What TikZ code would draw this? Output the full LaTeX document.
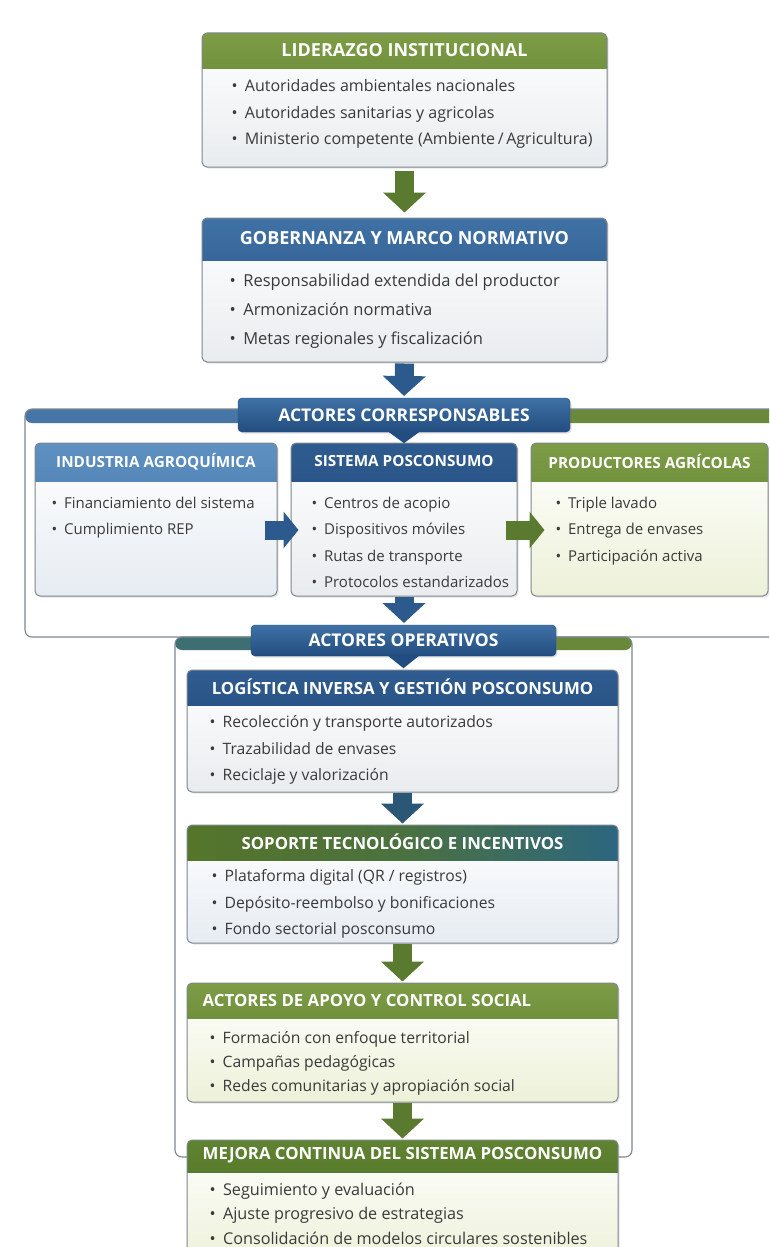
\documentclass[tikz,border=0pt]{standalone}
\usepackage{fontspec}
\setmainfont{Open Sans}
\usetikzlibrary{arrows.meta,positioning,shadows}

\definecolor{edge}{HTML}{7F878F}
\definecolor{txt}{HTML}{3A3A3A}
\definecolor{grT}{HTML}{7D9C45}
\definecolor{grB}{HTML}{55752A}
\definecolor{dgT}{HTML}{608332}
\definecolor{dgB}{HTML}{44651E}
\definecolor{blT}{HTML}{4071A5}
\definecolor{blB}{HTML}{224D80}
\definecolor{dbT}{HTML}{2F5C90}
\definecolor{dbB}{HTML}{1B3F6D}
\definecolor{lbT}{HTML}{5E90C2}
\definecolor{lbB}{HTML}{3B6C9E}
\definecolor{teal}{HTML}{2C6680}
\definecolor{agreen}{HTML}{5A7B2F}
\definecolor{ablue}{HTML}{2D5A8D}
\definecolor{ateal}{HTML}{2A5776}
\definecolor{fblue}{HTML}{4676A6}
\definecolor{fgreen}{HTML}{6A883A}
\definecolor{fteal}{HTML}{3C6E72}
\definecolor{tGray}{HTML}{E9ECEF}
\definecolor{tBlue}{HTML}{E6ECF2}
\definecolor{tGreen}{HTML}{EDF1D8}

\newcommand\itm{\textbullet\hspace{0.45em}}

\begin{document}
\begin{tikzpicture}[x=1pt,y=-1pt,
  panel/.style n args={4}{draw=edge,line width=1pt,rounded corners=5pt,inner sep=0pt,
    top color=white,bottom color=#3,
    drop shadow={opacity=.2,shadow xshift=1.5pt,shadow yshift=-1.5pt},
    path picture={\shade[top color=#1,bottom color=#2,sharp corners]
      (path picture bounding box.north west) rectangle ([yshift=-#4]path picture bounding box.north east);}},
  frm/.style n args={3}{draw=edge,line width=1.1pt,rounded corners=7pt,fill=white,inner sep=0pt,
    path picture={\fill[#1] (path picture bounding box.north west) rectangle ([yshift=-#3]path picture bounding box.north);
      \fill[#2] (path picture bounding box.north) rectangle ([yshift=-#3]path picture bounding box.north east);}},
  sect/.style 2 args={rounded corners=4pt,top color=#1,bottom color=#2,draw=#2,inner sep=0pt,
    text=white,font=\bfseries\fontsize{17.5}{20}\selectfont,
    drop shadow={opacity=.25,shadow xshift=1.5pt,shadow yshift=-1.5pt}},
  ttl/.style={text=white,inner sep=0pt,font=\bfseries\fontsize{18}{20}\selectfont},
  sttl/.style={text=white,inner sep=0pt,font=\bfseries\fontsize{15.3}{18}\selectfont},
  ottl/.style={text=white,inner sep=0pt,font=\bfseries\fontsize{16.8}{19}\selectfont},
  lst/.style={anchor=north west,align=left,inner sep=0pt,text=txt,font=\fontsize{16}{26.5}\selectfont},
  slst/.style={anchor=north west,align=left,inner sep=0pt,text=txt,font=\fontsize{15}{26.5}\selectfont},
  olst/.style={anchor=north west,align=left,inner sep=0pt,text=txt,font=\fontsize{15.7}{26.5}\selectfont},
  varr/.style={draw=#1,line width=19pt,-{Triangle[width=42pt,length=20pt]}},
  harr/.style={draw=#1,line width=19pt,-{Triangle[width=36pt,length=15pt]}},
  tip/.style={fill=#1}]

\path[use as bounding box,clip] (0,0) rectangle (769,1247);
\fill[white] (0,0) rectangle (769,1247);

% outer frames
\node[frm={fblue}{fgreen}{14pt},minimum width=765pt,minimum height=228pt] (corr) at (407.5,523) {};
\node[frm={fteal}{fgreen}{13pt},minimum width=457pt,minimum height=520pt] (oper) at (403.5,897) {};

% liderazgo
\node[panel={grT}{grB}{tGray}{36pt},minimum width=405pt,minimum height=134pt] (lid) at (404.5,100) {};
\node[ttl] (lidT) at ([yshift=-18pt]lid.north) {LIDERAZGO INSTITUCIONAL};
\node[lst] (lidL) at ([xshift=30pt,yshift=-47pt]lid.north west)
  {\itm Autoridades ambientales nacionales\\ \itm Autoridades sanitarias y agricolas\\
   \itm Ministerio competente (Ambiente\,/\,Agricultura)};

% gobernanza
\node[panel={blT}{blB}{tGray}{42pt},minimum width=405pt,minimum height=144pt] (gob) at (404.5,290) {};
\node[ttl] (gobT) at ([yshift=-21pt]gob.north) {GOBERNANZA Y MARCO NORMATIVO};
\node[lst,font=\fontsize{16.5}{29}\selectfont] (gobL) at ([xshift=28pt,yshift=-56pt]gob.north west)
  {\itm Responsabilidad extendida del productor\\ \itm Armonización normativa\\
   \itm Metas regionales y fiscalización};

\draw[varr=agreen,shorten <=3pt,shorten >=5pt] (lid.south) -- (gob.north);
\draw[varr=ablue,shorten <=1pt,shorten >=2pt] (gob.south) -- (404,398);

% actores corresponsables
\node[panel={dbT}{dbB}{tGray}{38pt},minimum width=226pt,minimum height=153pt] (sis) at (404,519.5) {};
\node[panel={lbT}{lbB}{tBlue}{38pt},minimum width=242pt,minimum height=153pt,left=13pt of sis] (ind) {};
\node[panel={grT}{grB}{tGreen}{38pt},minimum width=237pt,minimum height=153pt,right=13pt of sis] (pro) {};
\node[sttl] (indT) at ([yshift=-19pt]ind.north) {INDUSTRIA AGROQUÍMICA};
\node[sttl] (sisT) at ([yshift=-19pt]sis.north) {SISTEMA POSCONSUMO};
\node[sttl] (proT) at ([yshift=-19pt]pro.north) {PRODUCTORES AGRÍCOLAS};
\node[slst] (indL) at ([xshift=17pt,yshift=-54pt]ind.north west)
  {\itm Financiamiento del sistema\\ \itm Cumplimiento REP};
\node[slst] (sisL) at ([xshift=21pt,yshift=-54pt]sis.north west)
  {\itm Centros de acopio\\ \itm Dispositivos móviles\\ \itm Rutas de transporte\\ \itm Protocolos estandarizados};
\node[slst] (proL) at ([xshift=25pt,yshift=-54pt]pro.north west)
  {\itm Triple lavado\\ \itm Entrega de envases\\ \itm Participación activa};

\draw[harr=ablue] ([xshift=-13pt,yshift=-10.5pt]ind.east) -- ([xshift=8pt,yshift=-10.5pt]sis.west);
\draw[harr=agreen] ([xshift=-12pt,yshift=-10.5pt]sis.east) -- ([xshift=14pt,yshift=-10.5pt]pro.west);
\draw[varr=ablue,shorten >=2pt] (sis.south) -- (404,625);

\node[sect={blT}{blB},minimum width=332pt,minimum height=34pt] (corrH) at (404,415) {ACTORES CORRESPONSABLES};
\fill[tip=blB] ([xshift=-15pt]corrH.south) -- ([xshift=15pt]corrH.south) -- ([yshift=-11pt]corrH.south) -- cycle;

% actores operativos
\node[panel={dbT}{dbB}{tGray}{35pt},minimum width=431pt,minimum height=122pt] (log) at (402.5,731) {};
\node[ottl] (logT) at ([yshift=-17.5pt]log.north) {LOGÍSTICA INVERSA Y GESTIÓN POSCONSUMO};
\node[olst] (logL) at ([xshift=23pt,yshift=-46pt]log.north west)
  {\itm Recolección y transporte autorizados\\ \itm Trazabilidad de envases\\ \itm Reciclaje y valorización};

\node[panel={grT}{teal}{tBlue}{35pt},minimum width=431pt,minimum height=118pt,
  path picture={\shade[left color=grB,right color=teal,middle color=grB!75!teal,sharp corners]
    (path picture bounding box.north west) rectangle ([yshift=-35pt]path picture bounding box.north east);}] (sop) at (402.5,884) {};
\node[ottl] (sopT) at ([yshift=-17.5pt]sop.north) {SOPORTE TECNOLÓGICO E INCENTIVOS};
\node[olst] (sopL) at ([xshift=25pt,yshift=-45pt]sop.north west)
  {\itm Plataforma digital (QR / registros)\\ \itm Depósito-reembolso y bonificaciones\\ \itm Fondo sectorial posconsumo};

\node[panel={grT}{grB}{tGreen}{35pt},minimum width=431pt,minimum height=119pt] (apo) at (402.5,1042.5) {};
\node[ottl,anchor=west] (apoT) at ([xshift=16pt,yshift=-17.5pt]apo.north west) {ACTORES DE APOYO Y CONTROL SOCIAL};
\node[olst,font=\fontsize{15.7}{24}\selectfont] (apoL) at ([xshift=23pt,yshift=-49pt]apo.north west)
  {\itm Formación con enfoque territorial\\ \itm Campañas pedagógicas\\ \itm Redes comunitarias y apropiación social};

\node[panel={dgT}{dgB}{tGreen}{32pt},minimum width=431pt,minimum height=125pt] (mej) at (402.5,1202.5) {};
\node[ottl] (mejT) at ([yshift=-16pt]mej.north) {MEJORA CONTINUA DEL SISTEMA POSCONSUMO};
\node[olst,font=\fontsize{16.2}{24.5}\selectfont] (mejL) at ([xshift=23pt,yshift=-43pt]mej.north west)
  {\itm Seguimiento y evaluación\\ \itm Ajuste progresivo de estrategias\\ \itm Consolidación de modelos circulares sostenibles};

\draw[varr=ateal,shorten >=1pt] (log.south) -- (sop.north);
\draw[varr=agreen,shorten >=1pt] (sop.south) -- (apo.north);
\draw[varr=agreen,shorten >=1pt] (apo.south) -- (mej.north);

\node[sect={blT}{blB},minimum width=305pt,minimum height=31pt] (opH) at (403.5,640.5) {ACTORES OPERATIVOS};
\fill[tip=blB] ([xshift=-15pt]opH.south) -- ([xshift=15pt]opH.south) -- ([yshift=-12pt]opH.south) -- cycle;
\end{tikzpicture}
\end{document}
